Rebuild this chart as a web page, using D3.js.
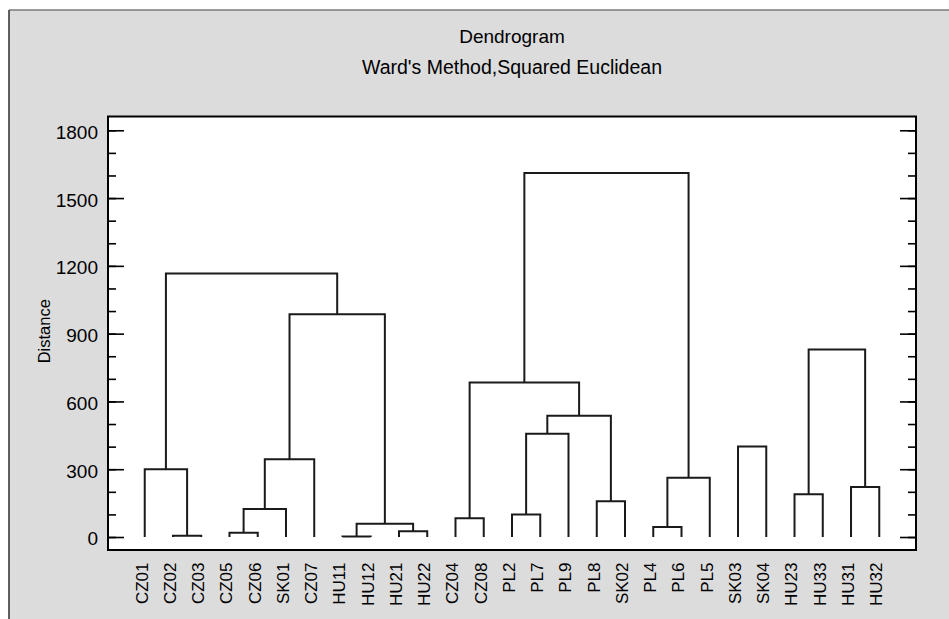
<!DOCTYPE html>
<html>
<head>
<meta charset="utf-8">
<script src="https://cdn.jsdelivr.net/npm/d3@7"></script>
<style>
  body { margin: 0; background: #fff; }
  text { font-family: "Liberation Sans", Arial, sans-serif; fill: #000; }
</style>
</head>
<body>
<div id="wrapper"></div>
<script>
// Data: leaf order, then joins (children are leaf names or earlier join ids "#n")
const leafNames = ['CZ01','CZ02','CZ03','CZ05','CZ06','SK01','CZ07','HU11','HU12','HU21','HU22',
	'CZ04','CZ08','PL2','PL7','PL9','PL8','SK02','PL4','PL6','PL5','SK03','SK04','HU23','HU33','HU31','HU32']

const joinChildren = [
	['CZ02', 'CZ03'],   // #0
	['CZ01', '#0'],     // #1
	['CZ05', 'CZ06'],   // #2
	['#2', 'SK01'],     // #3
	['#3', 'CZ07'],     // #4
	['HU11', 'HU12'],   // #5
	['HU21', 'HU22'],   // #6
	['#5', '#6'],       // #7
	['#4', '#7'],       // #8
	['#1', '#8'],       // #9
	['CZ04', 'CZ08'],   // #10
	['PL2', 'PL7'],     // #11
	['#11', 'PL9'],     // #12
	['PL8', 'SK02'],    // #13
	['#12', '#13'],     // #14
	['#10', '#14'],     // #15
	['PL4', 'PL6'],     // #16
	['#16', 'PL5'],     // #17
	['#15', '#17'],     // #18
	['SK03', 'SK04'],   // #19
	['HU23', 'HU33'],   // #20
	['HU31', 'HU32'],   // #21
	['#20', '#21']      // #22
]
const joinHeights = [6, 300, 19, 124, 344, 2, 26, 59, 986, 1166,
	83, 100, 457, 158, 537, 684, 44, 262, 1611, 400, 189, 221, 830]

const majorTicks = [0, 300, 600, 900, 1200, 1500, 1800]
const minorTicks = d3.range(0, 1801, 100)

// Dimensions
const width = 949
const height = 619
let dimensions = {
	width: width,
	height: height,
	margin: { top: 116.5, bottom: 69, left: 108, right: 33 }
}
dimensions.boundedWidth = dimensions.width - dimensions.margin.left - dimensions.margin.right
dimensions.boundedHeight = dimensions.height - dimensions.margin.top - dimensions.margin.bottom

const svg = d3.select('#wrapper')
	.append('svg')
		.attr('width', dimensions.width)
		.attr('height', dimensions.height)

// Gray panel
svg.append('rect')
	.attr('x', 9).attr('y', 10)
	.attr('width', width).attr('height', height)
	.attr('fill', '#dcdcdc')
svg.append('line')
	.attr('x1', 9).attr('x2', width).attr('y1', 10).attr('y2', 10)
	.attr('stroke', '#7a7a7a').attr('stroke-width', 1.5)
svg.append('line')
	.attr('x1', 9).attr('x2', 9).attr('y1', 10).attr('y2', height)
	.attr('stroke', '#3a3a3a').attr('stroke-width', 1.6)

// Titles
const centerX = dimensions.margin.left + dimensions.boundedWidth / 2
svg.append('text')
	.attr('x', centerX).attr('y', 43)
	.attr('text-anchor', 'middle')
	.attr('font-size', '19px')
	.text('Dendrogram')
svg.append('text')
	.attr('x', centerX).attr('y', 74)
	.attr('text-anchor', 'middle')
	.attr('font-size', '19.5px')
	.text("Ward's Method,Squared Euclidean")

const bounds = svg.append('g')
	.attr('transform', `translate(${dimensions.margin.left}, ${dimensions.margin.top})`)

bounds.append('rect')
	.attr('width', dimensions.boundedWidth)
	.attr('height', dimensions.boundedHeight)
	.attr('fill', '#fff')

// Scales
const xScale = d3.scalePoint()
	.domain(leafNames)
	.range([0, dimensions.boundedWidth])
	.padding(1.3)

const yScale = d3.scaleLinear()
	.domain([-57.5, 1861])
	.range([dimensions.boundedHeight, 0])

// Axes (ticks point inward)
const styleAxis = g => {
	g.select('.domain').remove()
	g.selectAll('.tick line').attr('stroke', '#000').attr('stroke-width', 1.6)
}

bounds.append('g')
	.call(d3.axisLeft(yScale).tickValues(minorTicks).tickSize(-8).tickFormat(''))
	.call(styleAxis)
bounds.append('g')
	.call(d3.axisLeft(yScale).tickValues(majorTicks).tickSize(-16).tickPadding(10)
		.tickSizeOuter(0).tickFormat(d3.format('d')))
	.call(styleAxis)
	.call(g => g.selectAll('.tick text')
		.attr('font-size', '19px')
		.attr('dy', '0.42em')
		.attr('fill', '#000')
		.style('font-family', '"Liberation Sans", Arial, sans-serif'))

bounds.append('g')
	.attr('transform', `translate(${dimensions.boundedWidth}, 0)`)
	.call(d3.axisRight(yScale).tickValues(minorTicks).tickSize(-8).tickFormat(''))
	.call(styleAxis)
bounds.append('g')
	.attr('transform', `translate(${dimensions.boundedWidth}, 0)`)
	.call(d3.axisRight(yScale).tickValues(majorTicks).tickSize(-16).tickFormat(''))
	.call(styleAxis)

// Dendrogram links
const nodePos = {}
leafNames.forEach(n => { nodePos[n] = { x: xScale(n), h: 0 } })
joinChildren.forEach((pair, i) => {
	const a = nodePos[pair[0]]
	const b = nodePos[pair[1]]
	const h = joinHeights[i]
	nodePos['#' + i] = { x: (a.x + b.x) / 2, h: h }
	bounds.append('path')
		.attr('d', `M${a.x},${yScale(a.h)}V${yScale(h)}H${b.x}V${yScale(b.h)}`)
		.attr('fill', 'none')
		.attr('stroke', '#1a1a1a')
		.attr('stroke-width', 2)
})

// Frame
bounds.append('rect')
	.attr('width', dimensions.boundedWidth)
	.attr('height', dimensions.boundedHeight)
	.attr('fill', 'none')
	.attr('stroke', '#000')
	.attr('stroke-width', 2)

// Leaf labels
bounds.append('g')
	.selectAll('text')
	.data(leafNames)
	.join('text')
		.attr('transform', d => `translate(${xScale(d)}, ${dimensions.boundedHeight + 12.5}) rotate(-90)`)
		.attr('text-anchor', 'end')
		.attr('dy', '0.17em')
		.attr('font-size', '17px')
		.text(d => d)

// Y label
svg.append('text')
	.attr('transform', `translate(50, ${dimensions.margin.top + dimensions.boundedHeight / 2 - 2}) rotate(-90)`)
	.attr('text-anchor', 'middle')
	.attr('font-size', '16.5px')
	.text('Distance')
</script>
</body>
</html>
